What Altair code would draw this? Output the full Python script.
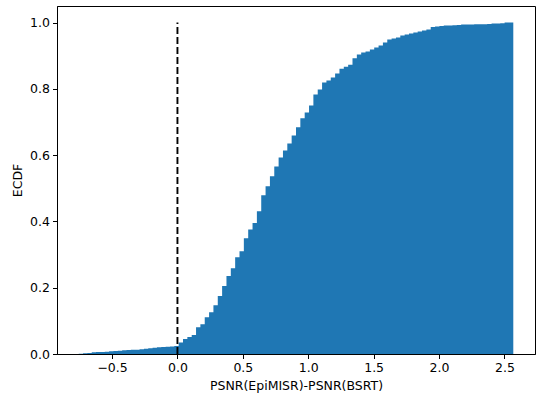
import altair as alt
import numpy as np
import pandas as pd

# ECDF height of each of the 100 histogram bins
ecdf = [0.001, 0.002, 0.003, 0.005, 0.006, 0.006, 0.007, 0.008, 0.009, 0.010,
        0.011, 0.012, 0.013, 0.013, 0.014, 0.016, 0.017, 0.019, 0.020, 0.021,
        0.022, 0.023, 0.024, 0.035, 0.045, 0.051, 0.057, 0.081, 0.090, 0.111,
        0.126, 0.147, 0.175, 0.205, 0.235, 0.259, 0.292, 0.310, 0.349, 0.376,
        0.395, 0.431, 0.479, 0.506, 0.536, 0.566, 0.593, 0.614, 0.635, 0.659,
        0.684, 0.711, 0.729, 0.750, 0.783, 0.798, 0.819, 0.825, 0.834, 0.846,
        0.861, 0.867, 0.873, 0.892, 0.904, 0.910, 0.913, 0.919, 0.925, 0.931,
        0.940, 0.949, 0.952, 0.955, 0.961, 0.964, 0.967, 0.970, 0.973, 0.976,
        0.979, 0.987, 0.988, 0.990, 0.991, 0.991, 0.992, 0.993, 0.994, 0.994,
        0.994, 0.995, 0.995, 0.995, 0.996, 0.997, 0.997, 0.998, 1.000, 1.000]

data_min = -0.755
data_max = 2.568
x_ticks = [-0.5, 0.0, 0.5, 1.0, 1.5, 2.0, 2.5]
y_ticks = [0.0, 0.2, 0.4, 0.6, 0.8, 1.0]
x_domain = [-0.921, 2.734]
y_domain = [0.0, 1.05]

# bin edges; the last edge carries the last bin's height so the step closes
edges = np.linspace(data_min, data_max, len(ecdf) + 1)
steps = pd.DataFrame({"x": edges, "y": ecdf + [ecdf[-1]]})
line = pd.DataFrame({"x": [0.0], "y": [0.0], "y2": [1.0]})

FONT = "DejaVu Sans"
FS = 12.5

xscale = alt.Scale(domain=x_domain, nice=False, zero=False)
yscale = alt.Scale(domain=y_domain, nice=False, zero=False)

hist_layer = alt.Chart(steps).mark_area(color="#1f77b4", interpolate="step-after", opacity=1).encode(
    x=alt.X("x:Q", scale=xscale,
            axis=alt.Axis(values=x_ticks, format=".1f", title="PSNR(EpiMISR)-PSNR(BSRT)")),
    y=alt.Y("y:Q", scale=yscale,
            axis=alt.Axis(values=y_ticks, format=".1f", title="ECDF")),
    y2=alt.datum(0),
)

rule_layer = alt.Chart(line).mark_rule(color="black", strokeDash=[7, 3], strokeWidth=1.9).encode(
    x="x:Q", y="y:Q", y2="y2:Q"
)

chart = alt.layer(hist_layer, rule_layer).properties(
    width=478, height=348,
    autosize=alt.AutoSizeParams(type="none"),
    padding={"left": 57, "top": 6, "right": 6, "bottom": 42},
).configure_view(
    stroke="black", strokeWidth=1
).configure_axis(
    grid=False,
    domainColor="black", domainWidth=1,
    tickColor="black", tickSize=4.5, tickWidth=1,
    labelFont=FONT, labelFontSize=FS, labelColor="black", labelPadding=3,
    titleFont=FONT, titleFontSize=FS, titleColor="black", titleFontWeight="normal",
).configure_axisX(
    titlePadding=5,
).configure_axisY(
    titlePadding=5,
)

chart.save("out.html", embed_options={"renderer": "svg", "actions": False})
